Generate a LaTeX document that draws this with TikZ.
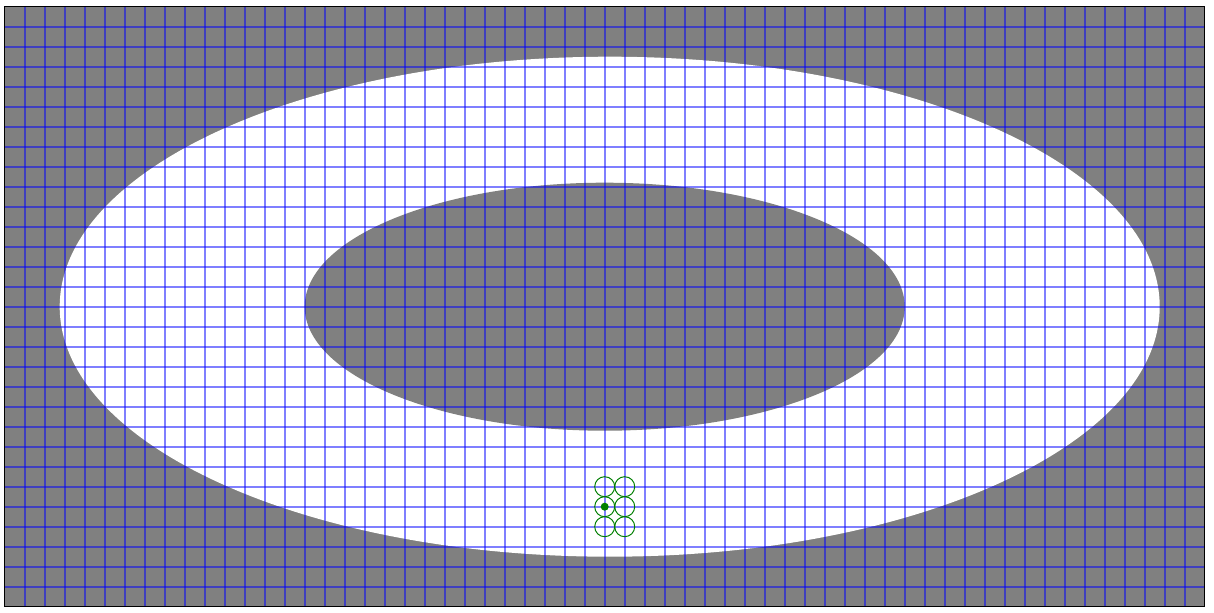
\documentclass[tikz,border=0pt]{standalone}
\usepackage{xcolor}
\usepackage{tikz}
\definecolor{solid}{HTML}{808080}
\definecolor{meshblue}{HTML}{0000FF}
\definecolor{stencil}{HTML}{007F00}
\tikzset{
  region/.style={fill=solid, draw=none},
  fluid/.style={fill=white, draw=none},
  mesh/.style={draw=meshblue, draw opacity=0.5, line width=1.4pt},
  nbr/.style={draw=stencil, line width=0.7pt},
  probe/.style={fill=stencil, draw=none}
}

\begin{document}
\begin{tikzpicture}[x=0.5cm, y=0.5cm]
  \useasboundingbox (-0.235,-0.265) rectangle (60.465,30.335);

  % background and the two ellipses
  \fill[region] (0,0) rectangle (60,30);
  \fill[fluid] (30.25,15) ellipse [x radius=27.5, y radius=12.5];
  \fill[region] (30,15) ellipse [x radius=15, y radius=6.2];

  % grid
  \foreach \i in {1,...,59}
    \draw[mesh] (\i,0) -- (\i,30);
  \foreach \j in {1,...,29}
    \draw[mesh] (0,\j) -- (60,\j);

  % stencil round the probe point
  \foreach \dx in {30,31}
    \foreach \dy in {4,5,6}
      \draw[nbr] (\dx,\dy) circle [radius=0.5];
  \fill[probe] (30,5) circle [radius=0.2];

  % frame
  \draw[line width=1pt] (0,0) rectangle (60,30);
\end{tikzpicture}
\end{document}
